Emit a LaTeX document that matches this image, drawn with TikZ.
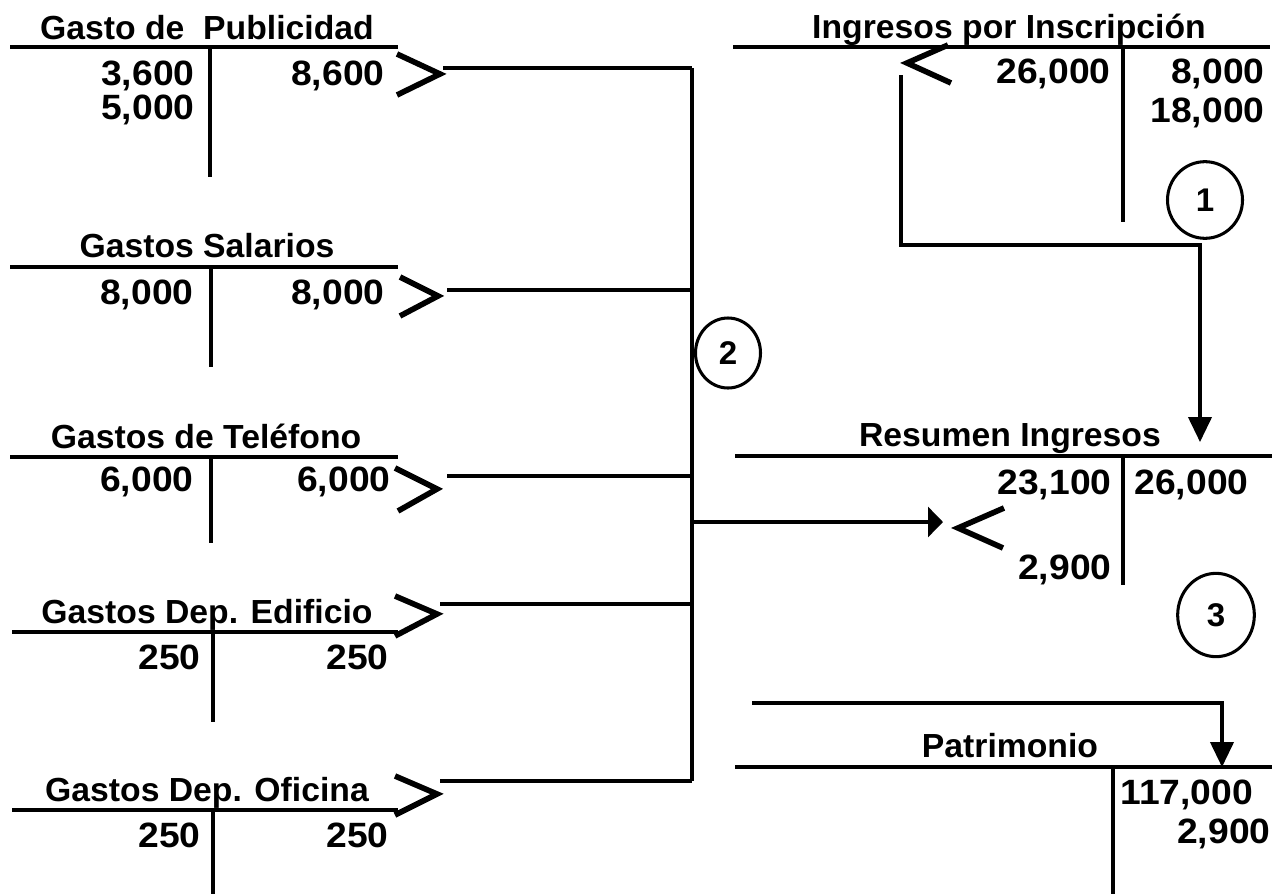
\documentclass[tikz,border=0pt]{standalone}
\usepackage{fontspec}
\usetikzlibrary{arrows.meta,shapes.geometric}
\newfontfamily\labfont[FakeStretch=1.01]{Liberation Sans}
\newfontfamily\numfont[FakeStretch=1.06]{Liberation Sans}
\begin{document}
\begin{tikzpicture}[x=0.03cm,y=-0.03cm,line width=2.6pt,
  tline/.style={line width=2.6pt},
  conn/.style={line width=2.6pt},
  chev/.style={line width=4.8pt,line join=miter,line cap=butt},
  title/.style={font=\labfont\bfseries\fontsize{28.5}{32}\selectfont,anchor=base,inner sep=0pt},
  num/.style={font=\numfont\bfseries\fontsize{30}{34}\selectfont,inner sep=0pt},
  circnum/.style={draw,ellipse,line width=2.6pt,inner sep=0pt,font=\labfont\bfseries\fontsize{28}{30}\selectfont},
  varrow/.style={conn,-{Triangle[length=0.75cm,width=0.7cm]}},
  harrow/.style={conn,-{Triangle[length=0.45cm,width=0.9cm]}}]
\useasboundingbox (0,0) rectangle (1280,894);

% ---------- Gasto de Publicidad
\node[title] (t1) at (207,39) {Gasto de\ \ Publicidad};
\draw[tline] (10,47) -- (398,47);
\draw[tline] (210,47) -- (210,177);
\node[num,anchor=base east] (p1) at (196,85) {3,600};
\node[num,anchor=base east] (p2) at (196,119) {5,000};
\node[num,anchor=base east] (p3) at (386,85) {8,600};
\draw[chev] (397,54) -- (440,74) -- (397,95);
\coordinate (c1) at (443,68);
\coordinate (b1) at (692,68);

% ---------- Gastos Salarios
\node[title] (t2) at (207,257) {Gastos Salarios};
\draw[tline] (10,267) -- (398,267);
\draw[tline] (211,267) -- (211,367);
\node[num,anchor=base east] (s1) at (195,304) {8,000};
\node[num,anchor=base east] (s2) at (386,304) {8,000};
\draw[chev] (400,277) -- (438,296) -- (400,316);
\coordinate (c2) at (447,290);
\coordinate (b2) at (692,290);

% ---------- Gastos de Teléfono
\node[title] (t3) at (206,448) {Gastos de Teléfono};
\draw[tline] (10,457) -- (398,457);
\draw[tline] (211,457) -- (211,543);
\node[num,anchor=base east] (f1) at (195,491) {6,000};
\node[num,anchor=base east] (f2) at (392,491) {6,000};
\draw[chev] (395,468) -- (437,489) -- (398,511);
\coordinate (c3) at (447,476);
\coordinate (b3) at (692,476);

% ---------- Gastos Dep. Edificio
\node[title] (t4) at (207,623) {Gastos Dep. Edificio};
\draw[tline] (12,632) -- (398,632);
\draw[tline] (213,632) -- (213,722);
\node[num,anchor=base east] (e1) at (202,669) {250};
\node[num,anchor=base east] (e2) at (390,669) {250};
\draw[chev] (395,596) -- (437,614) -- (395,636);
\coordinate (c4) at (440,604);
\coordinate (b4) at (692,604);

% ---------- Gastos Dep. Oficina
\node[title] (t5) at (207,801) {Gastos Dep. Oficina};
\draw[tline] (12,810) -- (398,810);
\draw[tline] (213,810) -- (213,894);
\node[num,anchor=base east] (o1) at (202,847) {250};
\node[num,anchor=base east] (o2) at (390,847) {250};
\draw[chev] (395,776) -- (437,794) -- (395,815);
\coordinate (c5) at (440,781);
\coordinate (b5) at (692,781);

% ---------- connectors to bus
\draw[conn] (c1) -- (b1);
\draw[conn] (c2) -- (b2);
\draw[conn] (c3) -- (b3);
\draw[conn] (c4) -- (b4);
\draw[conn] (c5) -- (b5);
\draw[conn] (b1) -- (b5);
\node[circnum,minimum width=1.95cm,minimum height=2.1cm] (n2) at (728,353) {2};
\coordinate (bm) at (692,522);
\coordinate (am) at (943,522);
\draw[harrow] (bm) -- (am);
\draw[chev] (1004,508) -- (958,528) -- (1003,548);

% ---------- Ingresos por Inscripción
\node[title] (t6) at (1009,38) {Ingresos por Inscripción};
\draw[tline] (733,47) -- (1270,47);
\draw[tline] (1123,47) -- (1123,222);
\node[num,anchor=base east] (i1) at (1112,83) {26,000};
\node[num,anchor=base east] (i2) at (1266,83) {8,000};
\node[num,anchor=base east] (i3) at (1266,122) {18,000};
\draw[chev] (948,45) -- (907,63) -- (951,83);
\node[circnum,minimum width=2.25cm,minimum height=2.3cm] (n1) at (1205,200) {1};
\coordinate (l1) at (901,75);
\coordinate (l2) at (901,245);
\coordinate (l3) at (1200,245);
\coordinate (l4) at (1200,442);
\draw[varrow] (l1) -- (l2) -- (l3) -- (l4);

% ---------- Resumen Ingresos
\node[title] (t7) at (1010,446) {Resumen Ingresos};
\draw[tline] (735,456) -- (1272,456);
\draw[tline] (1123,456) -- (1123,585);
\node[num,anchor=base east] (r1) at (1113,494) {23,100};
\node[num,anchor=base west] (r2) at (1133,494) {26,000};
\node[num,anchor=base east] (r3) at (1113,579) {2,900};
\node[circnum,minimum width=2.3cm,minimum height=2.5cm] (n3) at (1216,615) {3};

% ---------- Patrimonio
\coordinate (q1) at (752,703);
\coordinate (q2) at (1222,703);
\coordinate (q3) at (1222,767);
\draw[varrow] (q1) -- (q2) -- (q3);
\node[title] (t8) at (1010,757) {Patrimonio};
\draw[tline] (735,767) -- (1272,767);
\draw[tline] (1113,767) -- (1113,894);
\node[num,anchor=base west] (m1) at (1119,804) {117,000};
\node[num,anchor=base east] (m2) at (1272,843) {2,900};
\end{tikzpicture}
\end{document}
